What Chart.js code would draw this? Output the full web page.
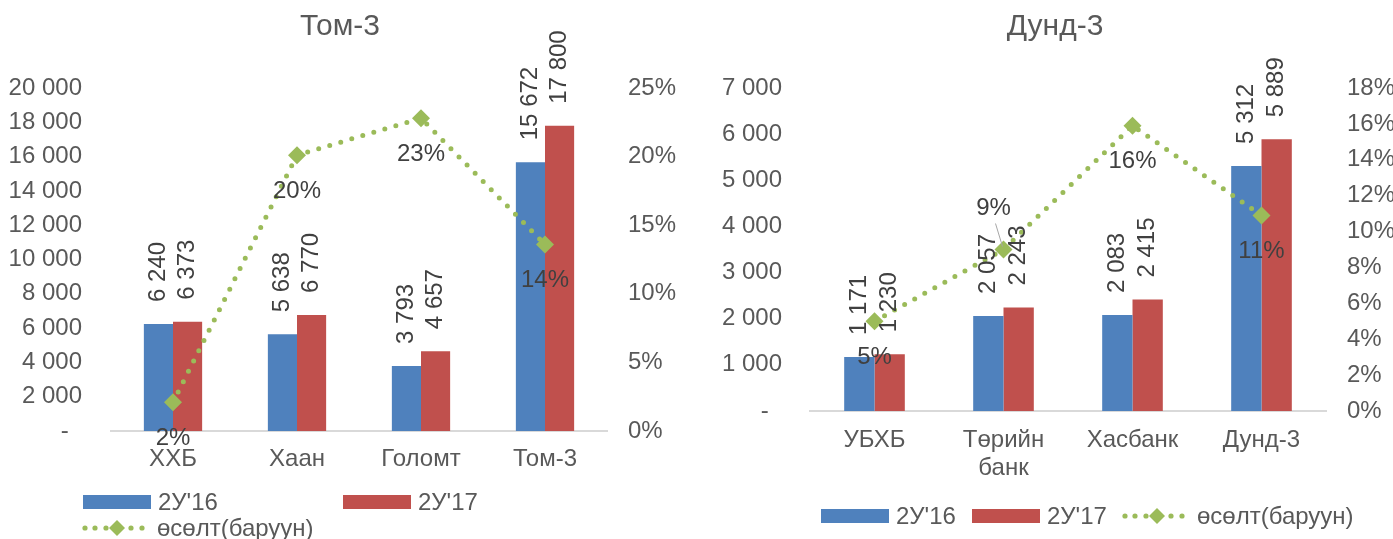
<!DOCTYPE html>
<html>
<head>
<meta charset="utf-8">
<script src="https://cdn.jsdelivr.net/npm/chart.js@4.4.1/dist/chart.umd.min.js"></script>
<style>
  body { margin: 0; background: #fff; width: 1393px; height: 539px; overflow: hidden; position: relative;
         font-family: "Liberation Sans", Arial, sans-serif; color: #595959; }
  #wrapL { position: absolute; left: 0; top: 0; width: 680px; height: 539px; }
  #wrapR { position: absolute; left: 717px; top: 0; width: 676px; height: 539px; }
  .leg { position: absolute; height: 28px; font-size: 24px; line-height: 28px; display: flex; align-items: center; white-space: nowrap; }
  .box { display: inline-block; width: 68px; height: 14px; margin-right: 7px; }
  .leg svg { margin-right: 9px; }
</style>
</head>
<body>
<div id="wrapL"><canvas id="chartL"></canvas></div>
<div id="wrapR"><canvas id="chartR"></canvas></div>
<div id="legends"></div>
<script>
// --- data ---
const seriesNames = ["2У'16", "2У'17", 'өсөлт(баруун)'];

const bigTitle = 'Том-3';
const bigCategories = ['ХХБ', 'Хаан', 'Голомт', 'Том-3'];
const big2016 = [6240, 5638, 3793, 15672];
const big2017 = [6373, 6770, 4657, 17800];
const bigGrowth = [2.1, 20.1, 22.8, 13.6];   // %
const bigLeftMax = 20000, bigLeftStep = 2000;
const bigRightMax = 25, bigRightStep = 5;

const midTitle = 'Дунд-3';
const midCategories = ['УБХБ', ['Төрийн', 'банк'], 'Хасбанк', 'Дунд-3'];
const mid2016 = [1171, 2057, 2083, 5312];
const mid2017 = [1230, 2243, 2415, 5889];
const midGrowth = [5.0, 9.0, 15.9, 10.9];    // %
const midLeftMax = 7000, midLeftStep = 1000;
const midRightMax = 18, midRightStep = 2;

const BLUE = '#4F81BD', RED = '#C0504D', GREEN = '#9BBB59';
const TXT = '#595959', LBL = '#404040';
const FONT = '"Liberation Sans", Arial, sans-serif';

function fmtThousands(v) {
    return String(v).replace(/\B(?=(\d{3})+(?!\d))/g, ' ');
}

// подписи значений над столбцами и у точек роста
const valueLabels = {
    id: 'valueLabels',
    afterDatasetsDraw(chart, args, opts) {
        const ctx = chart.ctx;
        ctx.save();
        ctx.font = '24px ' + FONT;
        ctx.fillStyle = LBL;
        chart.data.datasets.forEach((ds, di) => {
            const meta = chart.getDatasetMeta(di);
            meta.data.forEach((el, i) => {
                const v = ds.data[i];
                if (ds.type === 'bar') {
                    ctx.save();
                    ctx.translate(el.x, el.y - 22);
                    ctx.rotate(-Math.PI / 2);
                    ctx.textAlign = 'left';
                    ctx.textBaseline = 'middle';
                    ctx.fillText(fmtThousands(v), 0, 0);
                    ctx.restore();
                } else {
                    const txt = Math.round(v) + '%';
                    ctx.textAlign = 'center';
                    ctx.textBaseline = 'middle';
                    if (opts.aboveIndex === i) {
                        const lx = el.x - 10, ly = el.y - 41;
                        ctx.fillText(txt, lx, ly);
                        ctx.strokeStyle = '#A6A6A6';
                        ctx.lineWidth = 1;
                        ctx.beginPath();
                        ctx.moveTo(lx + 2, ly + 15);
                        ctx.lineTo(el.x - 1, el.y - 3);
                        ctx.stroke();
                    } else {
                        ctx.fillText(txt, el.x, el.y + 36);
                    }
                }
            });
        });
        ctx.restore();
    }
};

function makeChart(id, cfg) {
    const ctx = document.getElementById(id).getContext('2d');
    const tickFont = { family: FONT, size: 24, lineHeight: 1.17 };
    return new Chart(ctx, {
        data: {
            labels: cfg.categories,
            datasets: [
                { type: 'line', label: seriesNames[2], data: cfg.growth, yAxisID: 'y1', order: 0,
                  borderColor: GREEN, borderWidth: 5, borderDash: [0, 11.5], borderCapStyle: 'round',
                  pointStyle: 'rectRot', pointRadius: 9, pointBackgroundColor: GREEN, pointBorderWidth: 0,
                  tension: 0, fill: false },
                { type: 'bar', label: seriesNames[0], data: cfg.s16, yAxisID: 'y', order: 1,
                  backgroundColor: BLUE, barPercentage: 1, categoryPercentage: 0.47 },
                { type: 'bar', label: seriesNames[1], data: cfg.s17, yAxisID: 'y', order: 1,
                  backgroundColor: RED, barPercentage: 1, categoryPercentage: 0.47 }
            ]
        },
        options: {
            animation: false,
            responsive: true,
            maintainAspectRatio: false,
            layout: { padding: 0 },
            scales: {
                x: {
                    grid: { display: false, drawTicks: false },
                    border: { color: '#D9D9D9', width: 2 },
                    ticks: { color: TXT, font: tickFont, padding: cfg.xPad, maxRotation: 0, autoSkip: false },
                    afterFit: s => { s.height = cfg.xHeight; }
                },
                y: {
                    position: 'left', min: 0, max: cfg.leftMax,
                    grid: { display: false, drawTicks: false },
                    border: { display: false },
                    ticks: { stepSize: cfg.leftStep, color: TXT, font: tickFont, padding: cfg.yPad,
                             callback: v => v === 0 ? '-  ' : fmtThousands(v) },
                    afterFit: s => { s.width = cfg.yWidth; }
                },
                y1: {
                    position: 'right', min: 0, max: cfg.rightMax,
                    grid: { display: false, drawTicks: false },
                    border: { display: false },
                    ticks: { stepSize: cfg.rightStep, color: TXT, font: tickFont, padding: 21,
                             callback: v => v + '%' },
                    afterFit: s => { s.width = cfg.y1Width; }
                }
            },
            plugins: {
                legend: { display: false },
                tooltip: { enabled: false },
                title: { display: true, text: cfg.title, color: TXT,
                         font: { family: FONT, size: 30, weight: 'normal', lineHeight: 1.2 },
                         padding: { top: 9, bottom: 43 } },
                valueLabels: { aboveIndex: cfg.aboveIndex }
            }
        },
        plugins: [valueLabels]
    });
}

makeChart('chartL', {
    title: bigTitle, categories: bigCategories, s16: big2016, s17: big2017, growth: bigGrowth,
    leftMax: bigLeftMax, leftStep: bigLeftStep, rightMax: bigRightMax, rightStep: bigRightStep,
    xHeight: 108, xPad: 14, yWidth: 111, yPad: 29, y1Width: 73, aboveIndex: -1
});
makeChart('chartR', {
    title: midTitle, categories: midCategories, s16: mid2016, s17: mid2017, growth: midGrowth,
    leftMax: midLeftMax, leftStep: midLeftStep, rightMax: midRightMax, rightStep: midRightStep,
    xHeight: 128, xPad: 15, yWidth: 93, yPad: 28, y1Width: 67, aboveIndex: 1
});

// легенда (Excel-подобная сетка)
function lineSwatch() {
    return '<svg width="66" height="18" viewBox="0 0 66 18">' +
        [3, 13, 24, 49, 60].map(x => `<circle cx="${x}" cy="9" r="2.6" fill="${GREEN}"/>`).join('') +
        `<polygon points="35,1 43,9 35,17 27,9" fill="${GREEN}"/></svg>`;
}
const legendItems = [
    { left: 83, top: 488, kind: 0 }, { left: 343, top: 488, kind: 1 }, { left: 82, top: 514, kind: 2 },
    { left: 821, top: 502, kind: 0 }, { left: 972, top: 502, kind: 1 }, { left: 1122, top: 502, kind: 2 }
];
const legHost = document.getElementById('legends');
legendItems.forEach(it => {
    const d = document.createElement('div');
    d.className = 'leg';
    d.style.left = it.left + 'px';
    d.style.top = it.top + 'px';
    const sw = it.kind === 2 ? lineSwatch()
        : `<span class="box" style="background:${it.kind === 0 ? BLUE : RED}"></span>`;
    d.innerHTML = sw + '<span>' + seriesNames[it.kind] + '</span>';
    legHost.appendChild(d);
});
</script>
</body>
</html>
